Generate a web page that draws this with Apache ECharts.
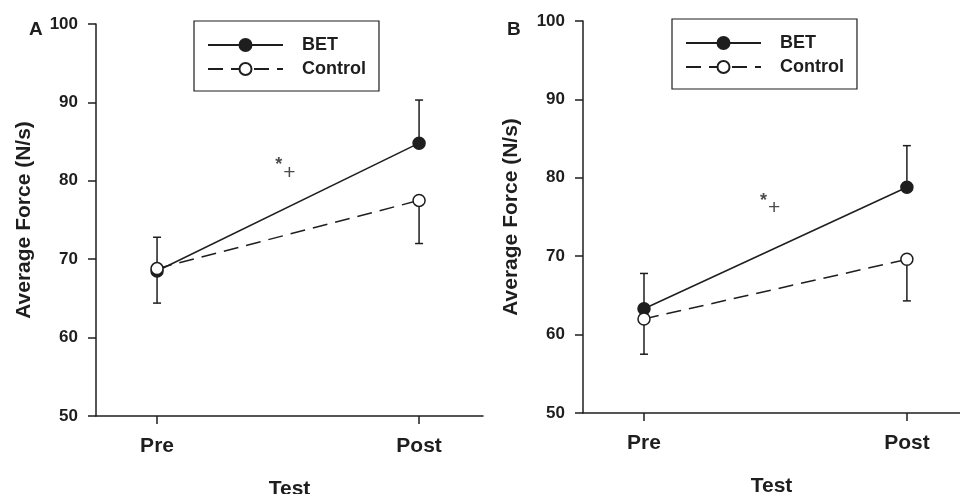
<!DOCTYPE html>
<html>
<head>
<meta charset="utf-8">
<script src="https://cdn.jsdelivr.net/npm/echarts@6/dist/echarts.min.js"></script>
<style>html,body{margin:0;padding:0;background:#fff}#c{width:960px;height:494px}</style>
</head>
<body>
<div id="c"></div>
<script>
// ---- data ----
const categories = ['Pre', 'Post'];
const panelLetters = ['A', 'B'];
const yTicks = [50, 60, 70, 80, 90, 100];
const seriesNames = ['BET', 'Control'];
// Panel A
const betA = [68.5, 84.8];
const betAErr = [4.3, 5.5];     // upward
const ctlA = [68.8, 77.5];
const ctlAErr = [4.4, 5.5];     // downward
// Panel B
const betB = [63.3, 78.8];
const betBErr = [4.5, 5.3];     // upward
const ctlB = [62.0, 69.6];
const ctlBErr = [4.5, 5.3];     // downward
const annotationText = '*+';
const annotationA = [0.49, 81.4];
const annotationB = [0.48, 76.5];

// ---- chart ----
const FONT = '"Liberation Sans", Arial, sans-serif';
const INK = '#1e1e1e';
const chart = echarts.init(document.getElementById('c'));

function pts(vals) { return vals.map((v, i) => [i, v]); }
function errs(vals, e, dir) { return vals.map((v, i) => [i, v, v + dir * e[i]]); }

function xAxis(gridIndex, min, max) {
  return {
    type: 'value', gridIndex, min, max,
    name: 'Test', nameLocation: 'middle', nameGap: 63,
    nameTextStyle: { fontFamily: FONT, fontWeight: 'bold', fontSize: 21, color: INK },
    axisLine: { show: true, onZero: false, lineStyle: { color: INK, width: 1.5 } },
    axisTick: { show: true, length: 8, customValues: [0, 1], lineStyle: { color: INK, width: 1.5 } },
    axisLabel: { customValues: [0, 1], formatter: v => categories[Math.round(v)], margin: 20,
      fontFamily: FONT, fontWeight: 'bold', fontSize: 21, color: INK },
    splitLine: { show: false }
  };
}
function yAxis(gridIndex) {
  return {
    type: 'value', gridIndex, min: yTicks[0], max: yTicks[yTicks.length - 1], interval: 10,
    name: 'Average Force (N/s)', nameLocation: 'middle', nameGap: 61, nameRotate: 90,
    nameTextStyle: { fontFamily: FONT, fontWeight: 'bold', fontSize: 21, color: INK },
    axisLine: { show: true, onZero: false, lineStyle: { color: INK, width: 1.5 } },
    axisTick: { show: true, length: 8, lineStyle: { color: INK, width: 1.5 } },
    axisLabel: { margin: 18, fontFamily: FONT, fontWeight: 'bold', fontSize: 17, color: INK },
    splitLine: { show: false }
  };
}
function errSeries(idx, data) {
  return {
    type: 'custom', xAxisIndex: idx, yAxisIndex: idx, z: 1, silent: true,
    data,
    renderItem(params, api) {
      const p1 = api.coord([api.value(0), api.value(1)]);
      const p2 = api.coord([api.value(0), api.value(2)]);
      const st = { stroke: INK, lineWidth: 1.5 };
      return { type: 'group', children: [
        { type: 'line', shape: { x1: p1[0], y1: p1[1], x2: p2[0], y2: p2[1] }, style: st },
        { type: 'line', shape: { x1: p2[0] - 4, y1: p2[1], x2: p2[0] + 4, y2: p2[1] }, style: st }
      ]};
    }
  };
}
function lineSeries(idx, name, data, filled) {
  return {
    type: 'line', name, xAxisIndex: idx, yAxisIndex: idx, z: 3,
    data,
    symbol: 'circle', symbolSize: 12,
    lineStyle: { color: INK, width: 1.5, type: filled ? 'solid' : [15, 8] },
    itemStyle: { color: filled ? INK : '#fff', borderColor: INK, borderWidth: 1.5 },
    animation: false
  };
}
function annot(idx, pos) {
  return {
    type: 'scatter', xAxisIndex: idx, yAxisIndex: idx, symbolSize: 0, silent: true,
    data: [pos],
    label: { show: true, position: 'inside', formatter: '{s|' + annotationText[0] + '}{p|' + annotationText[1] + '}',
      rich: {
        s: { fontFamily: FONT, fontSize: 18, fontWeight: 'bold', color: INK, verticalAlign: 'top', padding: [0, 1, 6, 0] },
        p: { fontFamily: FONT, fontSize: 21, color: INK, padding: [6, 0, 0, 0] }
      } }
  };
}
function legend(left, top) {
  return {
    left, top, orient: 'vertical', data: seriesNames,
    itemWidth: 75, itemHeight: 15, itemGap: 6,
    padding: [15, 13, 13, 13],
    borderColor: INK, borderWidth: 1.2, borderRadius: 0,
    textStyle: { fontFamily: FONT, fontWeight: 'bold', fontSize: 18, color: INK, padding: [0, 0, 0, 14], lineHeight: 15, height: 15 },
    selectedMode: false
  };
}

chart.setOption({
  animation: false,
  backgroundColor: '#fff',
  title: [
    { text: panelLetters[0], left: 24, top: 15, textStyle: { fontFamily: FONT, fontWeight: 'bold', fontSize: 19, color: INK } },
    { text: panelLetters[1], left: 502, top: 15, textStyle: { fontFamily: FONT, fontWeight: 'bold', fontSize: 19, color: INK } }
  ],
  legend: [legend(194, 21), legend(672, 19)],
  grid: [
    { left: 96, top: 24, width: 387, height: 392, outerBoundsMode: 'none', containLabel: false },
    { left: 583, top: 21, width: 377, height: 392, outerBoundsMode: 'none', containLabel: false }
  ],
  xAxis: [xAxis(0, -0.233, 1.244), xAxis(1, -0.232, 1.202)],
  yAxis: [yAxis(0), yAxis(1)],
  series: [
    errSeries(0, errs(betA, betAErr, 1)),
    errSeries(0, errs(ctlA, ctlAErr, -1)),
    lineSeries(0, seriesNames[0], pts(betA), true),
    lineSeries(0, seriesNames[1], pts(ctlA), false),
    errSeries(1, errs(betB, betBErr, 1)),
    errSeries(1, errs(ctlB, ctlBErr, -1)),
    lineSeries(1, seriesNames[0], pts(betB), true),
    lineSeries(1, seriesNames[1], pts(ctlB), false),
    annot(0, annotationA),
    annot(1, annotationB)
  ]
});
</script>
</body>
</html>
